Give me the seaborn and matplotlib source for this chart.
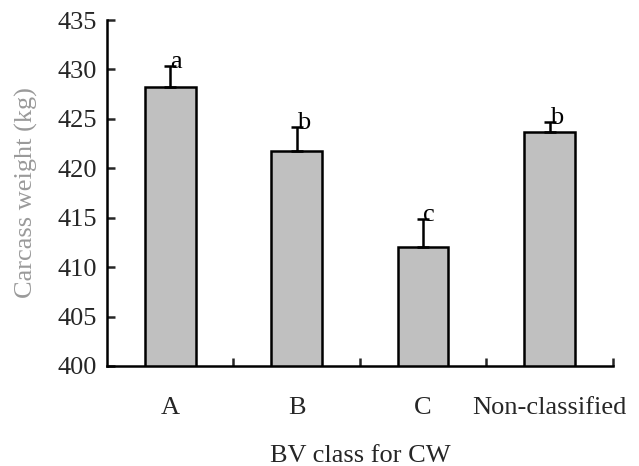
import matplotlib
matplotlib.use('Agg')
import matplotlib.pyplot as plt
import seaborn as sns
import pandas as pd
import numpy as np

# Values
classes = ['A', 'B', 'C', 'Non-classified']
means = [428.2, 421.8, 412.0, 423.7]
err_up = [2.2, 2.4, 2.9, 1.0]
letters = ['a', 'b', 'c', 'b']

sns.set_theme(style='ticks')
plt.rcParams['font.family'] = ['Liberation Serif', 'DejaVu Serif']

df = pd.DataFrame({'cls': classes, 'cw': means})

fig = plt.figure(figsize=(6.39, 4.66), dpi=100)
ax = fig.add_axes([0.1675, 0.2146, 0.7915, 0.7424])

sns.barplot(data=df, x='cls', y='cw', color='#c0c0c0', edgecolor='black',
            linewidth=1.8, width=0.4, saturation=1, ax=ax, zorder=2)

# upper error bars only
x = np.arange(len(classes))
ax.errorbar(x, means, yerr=[np.zeros(len(x)), err_up], fmt='none',
            ecolor='black', elinewidth=1.8, capsize=4, capthick=1.8, zorder=3)

for xi, m, e, t in zip(x, means, err_up, letters):
    ax.text(xi, m + e - 0.25, t, ha='left', va='baseline', fontsize=19,
            color='black')

ax.set_ylim(400, 435)
ax.set_xlim(-0.5, 3.5)
ax.set_yticks(range(400, 436, 5))

# category boundaries carry the x ticks
ax.set_xticks(np.arange(0.5, 4.0, 1.0), minor=False)
ax.set_xticklabels([])
ax.set_xticks(x, minor=True)
ax.set_xticklabels(classes, minor=True)
ax.tick_params(axis='x', which='major', direction='in', length=6, width=1.8)
ax.tick_params(axis='x', which='minor', length=0, pad=22, labelsize=19)
ax.tick_params(axis='y', direction='in', length=6, width=1.8, pad=7,
               labelsize=19)

for s in ['top', 'right']:
    ax.spines[s].set_visible(False)
for s in ['left', 'bottom']:
    ax.spines[s].set_linewidth(1.8)
    ax.spines[s].set_color('black')

ax.set_xlabel('BV class for CW', fontsize=19, labelpad=19)
ax.set_ylabel('Carcass weight (kg)', fontsize=19, color='#9a9a9a',
              labelpad=14)

fig.savefig('out.png', dpi=100)
